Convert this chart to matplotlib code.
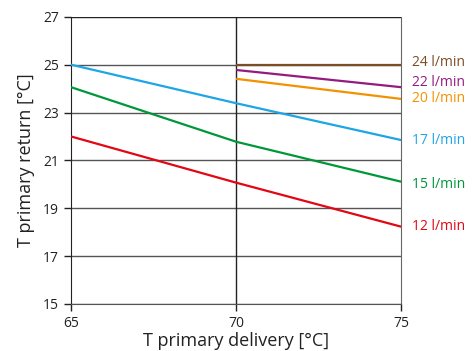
import matplotlib
matplotlib.use("Agg")
import matplotlib.pyplot as plt

plt.rcParams['font.family'] = ['Open Sans', 'DejaVu Sans']

# Data
x_full = [65, 70, 75]
x_half = [70, 75]
series = [
    ("12 l/min", x_full, [22.0, 20.07, 18.23], "#e30613"),
    ("15 l/min", x_full, [24.06, 21.78, 20.11], "#00973a"),
    ("17 l/min", x_full, [25.0, 23.39, 21.85], "#1ea5e6"),
    ("20 l/min", x_half, [24.41, 23.57], "#f39200"),
    ("22 l/min", x_half, [24.78, 24.06], "#951b81"),
    ("24 l/min", x_half, [25.0, 25.0], "#7b4e24"),
]
label_y = {"12 l/min": 18.25, "15 l/min": 20.0, "17 l/min": 21.82,
           "20 l/min": 23.6, "22 l/min": 24.27, "24 l/min": 25.09}
xticks = [65, 70, 75]
yticks = [15, 17, 19, 21, 23, 25, 27]

fig = plt.figure(figsize=(4.77, 3.51), dpi=100)
ax = fig.add_axes([0.149, 0.134, 0.692, 0.818])
ax.set_xlim(65, 75)
ax.set_ylim(15, 27)

for yv in yticks:
    ax.axhline(yv, color="#555555" if yv != 27 else "#222222", lw=1.0, zorder=1)
ax.axvline(70, color="#222222", lw=1.0, zorder=1)

for name, xs, ys, c in series:
    ax.plot(xs, ys, color=c, lw=1.6, zorder=3, solid_capstyle='butt')
    ax.text(75.33, label_y[name], name, color=c, fontsize=10, va="center", ha="left")

ax.set_xticks(xticks)
ax.set_yticks(yticks)
ax.tick_params(direction="out", length=5, width=1, labelsize=10, colors="#222222")
ax.spines["top"].set_visible(False)
ax.spines["left"].set_color("#222222")
ax.spines["bottom"].set_color("#555555")
ax.spines["right"].set_color("#666666")
ax.set_xlabel("T primary delivery [°C]", fontsize=13, color="#222222", labelpad=1)
ax.set_ylabel("T primary return [°C]", fontsize=13, color="#222222", labelpad=6)

fig.savefig("out.png", dpi=100)
